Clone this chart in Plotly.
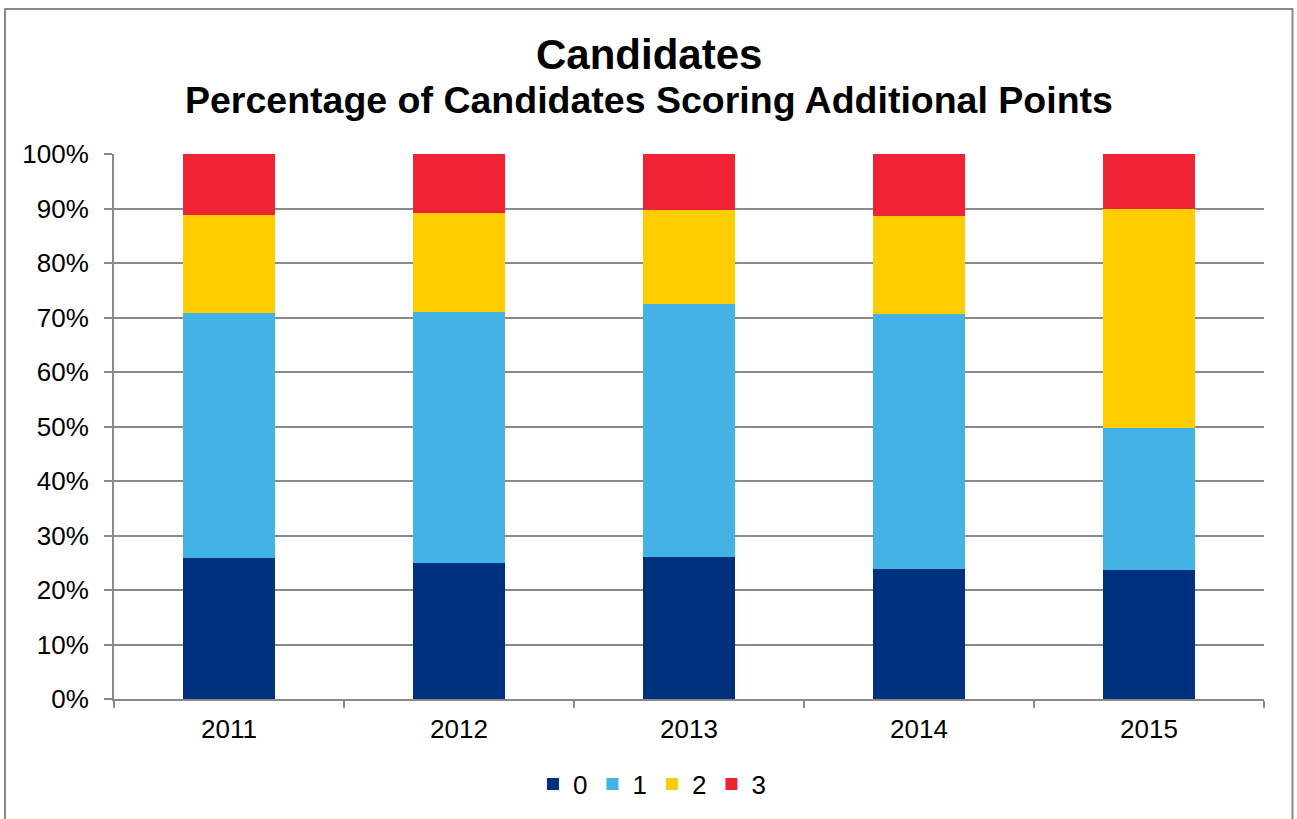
import plotly.graph_objects as go

years = ["2011", "2012", "2013", "2014", "2015"]
series_names = ["0", "1", "2", "3"]
pct_0 = [25.8, 24.9, 26.0, 23.8, 23.6]
pct_1 = [45.0, 46.2, 46.4, 46.9, 26.2]
pct_2 = [18.0, 18.0, 17.4, 18.0, 40.1]
pct_3 = [11.2, 10.9, 10.2, 11.3, 10.1]
colors = ["#00317f", "#43b3e5", "#ffcd00", "#f02334"]

values = [pct_0, pct_1, pct_2, pct_3]

fig = go.Figure()
for name, vals, col in zip(series_names, values, colors):
    fig.add_trace(go.Bar(
        x=years, y=[v / 100 for v in vals], name=name,
        marker=dict(color=col, line=dict(width=0)),
    ))

grey = "#8a8a8a"
L, R, T, B = 114, 33, 154, 120
W, H = 1297, 819
pw, ph = W - L - R, H - T - B

def px_x(x):
    return (x - L) / pw

def px_y(y):
    return (H - B - y) / ph

fig.update_layout(
    width=W, height=H,
    barmode="stack", bargap=0.6,
    plot_bgcolor="white", paper_bgcolor="white",
    margin=dict(l=L, r=R, t=T, b=B),
    font=dict(family="Liberation Sans, Arial, sans-serif", color="black", size=26),
    showlegend=True,
    legend=dict(orientation="h", x=px_x(652), xanchor="center", y=px_y(784), yanchor="middle",
                font=dict(size=26), traceorder="normal", itemwidth=30),
    xaxis=dict(type="category", tickson="boundaries", ticks="outside", ticklen=7,
               tickcolor=grey, tickwidth=2, showline=True, linecolor=grey, linewidth=2,
               showgrid=False, tickfont=dict(size=26), ticklabelstandoff=6),
    yaxis=dict(range=[0, 1], dtick=0.1, tickformat=".0%", ticks="outside", ticklen=8,
               tickcolor=grey, tickwidth=2, showline=True, linecolor=grey, linewidth=2,
               showgrid=True, gridcolor=grey, gridwidth=2, zeroline=False,
               tickfont=dict(size=26), ticklabelstandoff=10),
    annotations=[
        dict(text="<b>Candidates</b>", x=px_x(649), y=px_y(55), xref="paper", yref="paper",
             xanchor="center", yanchor="middle", showarrow=False, font=dict(size=42)),
        dict(text="<b>Percentage of Candidates Scoring Additional Points</b>", x=px_x(649), y=px_y(100),
             xref="paper", yref="paper", xanchor="center", yanchor="middle", showarrow=False,
             font=dict(size=37.5)),
    ],
    shapes=[
        dict(type="rect", xref="paper", yref="paper", x0=px_x(5), x1=px_x(1292.5), y0=px_y(830), y1=px_y(9),
             line=dict(color=grey, width=2), fillcolor="rgba(0,0,0,0)", layer="below"),
    ],
)

fig.write_html(
    "out.html",
    config={"displayModeBar": False},
    post_script="document.body.style.margin='0';document.body.style.overflow='hidden';",
)
